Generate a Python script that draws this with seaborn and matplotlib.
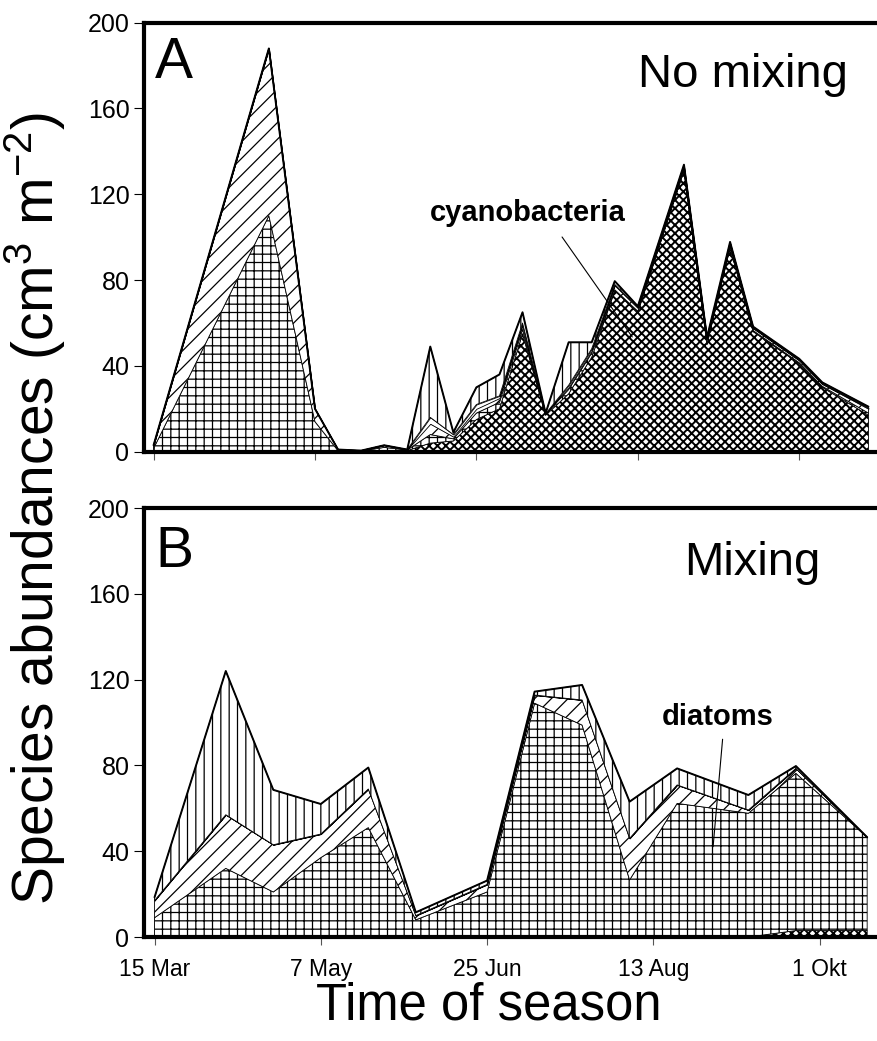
import numpy as np
import pandas as pd
import matplotlib
matplotlib.use("Agg")
import matplotlib.pyplot as plt
import seaborn as sns

# ---- data ----
# Panel A: no mixing
days_a = [0, 35, 49, 56, 63, 70, 77, 84, 91, 98, 105, 112, 119, 126, 133,
          140, 147, 161, 168, 175, 182, 196, 203, 217]
cyano_a = [0, 0, 0, 0, 0, 0, 0.5, 4, 5, 15, 20, 55, 17, 27, 44,
           75, 65, 131, 50, 95, 56, 41, 30, 17]
diatoms_a = [1.5, 110, 14, 0.5, 0.3, 2, 0.3, 4, 1, 3, 3, 2, 0.5, 2, 2,
             0.5, 0.5, 0.5, 0.5, 0.5, 0.5, 0.5, 0.5, 1]
diag_a = [1.5, 78, 6, 0.5, 0.2, 1, 0.2, 5, 1, 2, 2, 2, 0.2, 1, 1,
          2, 1.5, 1.5, 2, 1.5, 1, 1, 1, 2]
blank_a = [0, 0, 0, 0, 0, 0, 0, 3, 1, 2, 1, 1, 0, 1, 1,
           0.5, 0.3, 0.3, 0.3, 0.3, 0.3, 0.3, 0.3, 0.5]
vert_a = [0, 0, 0, 0, 0, 0, 0, 33, 1, 8, 10, 5, 0.2, 20, 3,
          1.5, 0.5, 0.5, 0.5, 0.5, 0.5, 0.5, 0.5, 0.5]

# Panel B: mixing
days_b = [0, 21, 35, 49, 63, 77, 98, 112, 126, 140, 154, 175, 189, 210]
cyano_b = [0, 0, 0, 0, 0, 0, 0.5, 0.5, 0, 0, 0, 0, 3, 3]
diatoms_b = [9, 32, 21, 37, 51, 8, 20.5, 108.5, 98.8, 26.6, 62.3, 57.7, 73.3, 43.5]
diag_b = [8, 25, 22, 11, 18, 2, 3.5, 3.8, 11.7, 19.4, 8.6, 1.5, 2.3, 0]
blank_b = [0] * 14
vert_b = [1.5, 67, 25.6, 14, 10, 1.5, 1.8, 1.6, 7, 17.1, 7.7, 7, 1.1, 0]

tick_days = [0, 49, 98, 147, 196]
tick_labels = ["15 Mar", "7 May", "25 Jun", "13 Aug", "1 Okt"]
y_ticks = [0, 40, 80, 120, 160, 200]

sns.set_theme(style="ticks")
plt.rcParams['font.family'] = ['Liberation Sans', 'DejaVu Sans']
plt.rcParams['mathtext.default'] = 'regular'
plt.rcParams['text.color'] = 'black'
plt.rcParams['xtick.labelcolor'] = 'black'
plt.rcParams['ytick.labelcolor'] = 'black'

fig = plt.figure(figsize=(8.77, 10.41), dpi=100)
ax_a = fig.add_axes([0.1642, 0.5661, 0.8358, 0.4121])
ax_b = fig.add_axes([0.1642, 0.0999, 0.8358, 0.4121])


def draw_panel(ax, days, layers):
    base = np.zeros(len(days))
    for values, hatch, hlw in layers:
        top = base + np.asarray(values, dtype=float)
        plt.rcParams['hatch.linewidth'] = hlw
        poly = ax.fill_between(days, base, top, facecolor='white', edgecolor='black',
                               hatch=hatch, linewidth=0.6, zorder=2)
        if hasattr(poly, 'set_hatch_linewidth'):
            poly.set_hatch_linewidth(hlw)
        base = top
    df = pd.DataFrame({'day': days, 'total': base})
    sns.lineplot(data=df, x='day', y='total', ax=ax, color='black',
                 linewidth=1.4, zorder=3)


draw_panel(ax_a, days_a, [(cyano_a, 'xxxx', 1.4), (diatoms_a, '++', 0.9),
                          (diag_a, '//', 0.9), (blank_a, None, 0.9),
                          (vert_a, '||', 0.9)])
draw_panel(ax_b, days_b, [(cyano_b, 'xxxx', 1.4), (diatoms_b, '++', 0.9),
                          (diag_b, '//', 0.9), (blank_b, None, 0.9),
                          (vert_b, '||', 0.9)])

for ax, xlim in [(ax_a, (-2.9, 219.6)), (ax_b, (-3.1, 212.9))]:
    ax.set_xlim(*xlim)
    ax.set_ylim(0, 200)
    ax.set_yticks(y_ticks)
    ax.set_xticks(tick_days)
    ax.set_xlabel("")
    ax.set_ylabel("")
    for side in ['left', 'top', 'bottom']:
        ax.spines[side].set_linewidth(3)
        ax.spines[side].set_color('black')
        ax.spines[side].set_zorder(5)
    ax.spines['right'].set_visible(False)
    ax.tick_params(axis='y', direction='out', length=7, width=0.8,
                   color='black', labelcolor='black', pad=3.5, labelsize=18)
    ax.tick_params(axis='x', direction='out', length=6, width=0.8,
                   color='#555555', labelcolor='black', pad=9, labelsize=16.5)

ax_a.set_xticklabels([])
ax_b.set_xticklabels(tick_labels)

# panel letters and titles
ax_a.text(0.3, 174, "A", fontsize=41, ha='left', va='baseline', color='black')
ax_a.text(210.8, 170, "No mixing", fontsize=34, ha='right', va='baseline',
          color='black')
ax_b.text(0.3, 172.6, "B", fontsize=41, ha='left', va='baseline', color='black')
ax_b.text(196.1, 168.8, "Mixing", fontsize=34, ha='right', va='baseline',
          color='black')

# annotations
ax_a.text(113.7, 107.6, "cyanobacteria", fontsize=21, fontweight='bold',
          ha='center', va='baseline', color='black')
ax_a.plot([124, 145.3], [100.1, 53.5], color='black', linewidth=0.8, zorder=4)
ax_b.text(166, 98.8, "diatoms", fontsize=21, fontweight='bold',
          ha='center', va='baseline', color='black')
ax_b.plot([167.4, 164.6], [92.2, 42.1], color='black', linewidth=0.8, zorder=4)

fig.text(0.040, 1 - 509 / 1041, "Species abundances (cm$^3$ m$^{-2}$)",
         rotation=90, ha='center', va='center', fontsize=41, color='black')
fig.text(0.5576, 21 / 1041, "Time of season", ha='center', va='baseline',
         fontsize=36.5, color='black')

fig.savefig("out.png", dpi=100)
plt.close(fig)
